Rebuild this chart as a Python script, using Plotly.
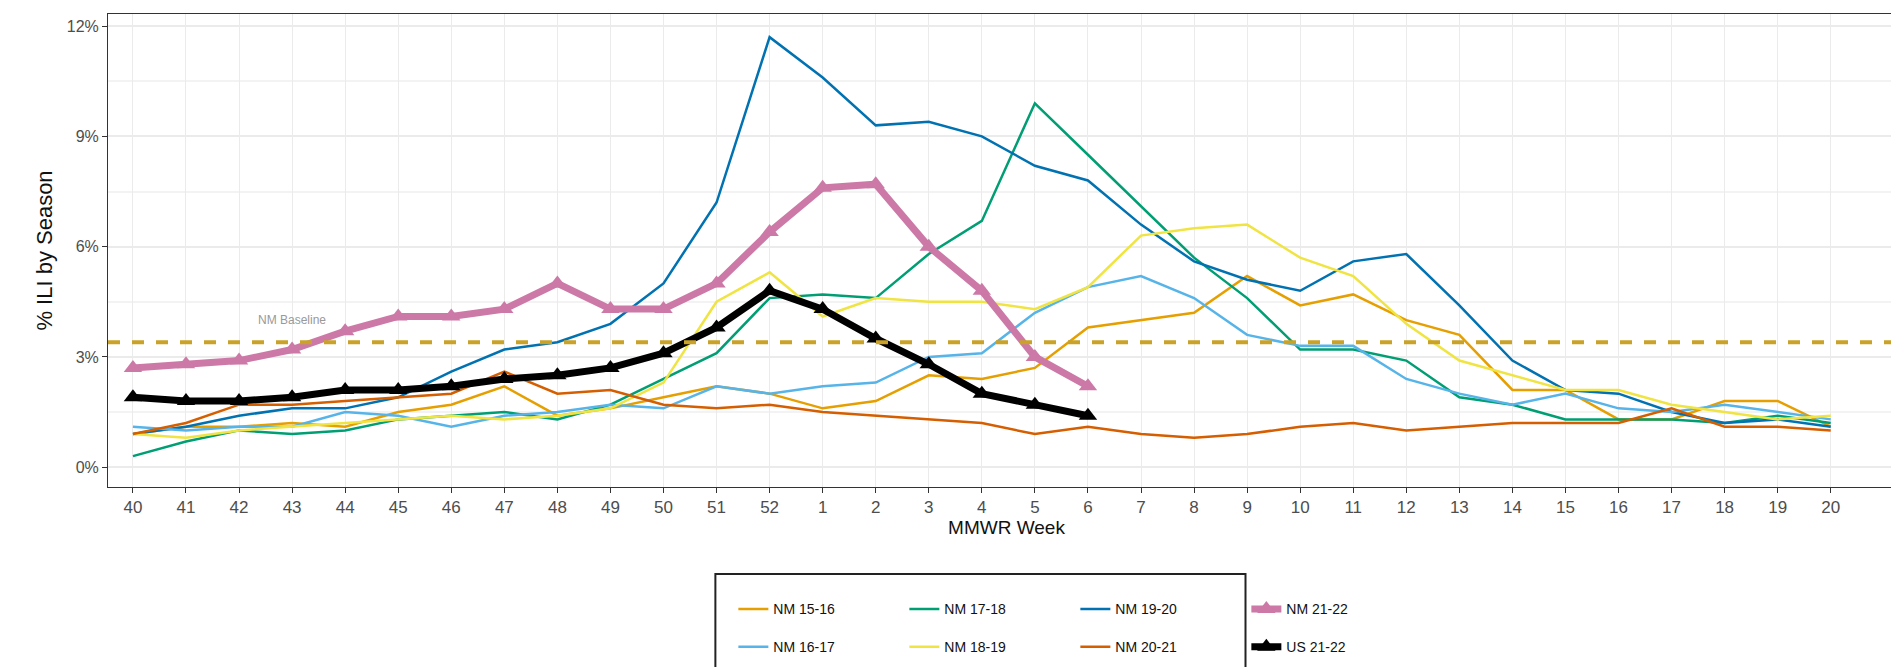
import plotly.graph_objects as go

weeks = [str(w) for w in list(range(40, 53)) + list(range(1, 21))]

nm_15_16 = [0.9,1.1,1.1,1.2,1.1,1.5,1.7,2.2,1.4,1.6,1.9,2.2,2.0,1.6,1.8,2.5,2.4,2.7,3.8,4.0,4.2,5.2,4.4,4.7,4.0,3.6,2.1,2.1,1.3,1.3,1.8,1.8,1.1]
nm_16_17 = [1.1,1.0,1.1,1.1,1.5,1.4,1.1,1.4,1.5,1.7,1.6,2.2,2.0,2.2,2.3,3.0,3.1,4.2,4.9,5.2,4.6,3.6,3.3,3.3,2.4,2.0,1.7,2.0,1.6,1.5,1.7,1.5,1.3]
nm_17_18 = [0.3,0.7,1.0,0.9,1.0,1.3,1.4,1.5,1.3,1.7,2.4,3.1,4.6,4.7,4.6,5.8,6.7,9.9,8.5,7.1,5.7,4.6,3.2,3.2,2.9,1.9,1.7,1.3,1.3,1.3,1.2,1.4,1.2]
nm_18_19 = [0.9,0.8,1.0,1.1,1.2,1.3,1.4,1.3,1.4,1.6,2.3,4.5,5.3,4.1,4.6,4.5,4.5,4.3,4.9,6.3,6.5,6.6,5.7,5.2,3.9,2.9,2.5,2.1,2.1,1.7,1.5,1.3,1.4]
nm_19_20 = [0.9,1.1,1.4,1.6,1.6,1.9,2.6,3.2,3.4,3.9,5.0,7.2,11.7,10.6,9.3,9.4,9.0,8.2,7.8,6.6,5.6,5.1,4.8,5.6,5.8,4.4,2.9,2.1,2.0,1.5,1.2,1.3,1.1]
nm_20_21 = [0.9,1.2,1.7,1.7,1.8,1.9,2.0,2.6,2.0,2.1,1.7,1.6,1.7,1.5,1.4,1.3,1.2,0.9,1.1,0.9,0.8,0.9,1.1,1.2,1.0,1.1,1.2,1.2,1.2,1.6,1.1,1.1,1.0]
nm_21_22 = [2.7,2.8,2.9,3.2,3.7,4.1,4.1,4.3,5.0,4.3,4.3,5.0,6.4,7.6,7.7,6.0,4.8,3.0,2.2]
us_21_22 = [1.9,1.8,1.8,1.9,2.1,2.1,2.2,2.4,2.5,2.7,3.1,3.8,4.8,4.3,3.5,2.8,2.0,1.7,1.4]
baseline = 3.4

x_idx = list(range(len(weeks)))
fig = go.Figure()

def add(name, vals, color, legend, width=2.5, marker=False):
    fig.add_trace(go.Scatter(
        x=x_idx[:len(vals)], y=vals, name=name, legend=legend,
        mode="lines+markers" if marker else "lines",
        line=dict(color=color, width=width),
        marker=dict(symbol="triangle-up", size=16, color=color) if marker else None,
    ))

add("NM 15-16", nm_15_16, "#E69F00", "legend")
add("NM 17-18", nm_17_18, "#009E73", "legend")
add("NM 19-20", nm_19_20, "#0072B2", "legend")
add("NM 16-17", nm_16_17, "#56B4E9", "legend2")
add("NM 18-19", nm_18_19, "#F0E442", "legend2")
add("NM 20-21", nm_20_21, "#D55E00", "legend2")
add("NM 21-22", nm_21_22, "#CC79A7", "legend", width=7, marker=True)
add("US 21-22", us_21_22, "#000000", "legend2", width=7, marker=True)

fig.add_hline(y=baseline, line=dict(color="#C9A227", width=4, dash="dash"))
fig.add_annotation(x=3, y=baseline + 0.35, text="NM Baseline", showarrow=False,
                   font=dict(size=12, color="#999999"), xanchor="center", yanchor="bottom")

fig.add_shape(type="rect", xref="paper", yref="paper", x0=0.338, x1=0.633, y0=-0.42, y1=-0.184,
              line=dict(color="#222222", width=2), fillcolor="rgba(0,0,0,0)")

leg_common = dict(orientation="h", xanchor="left", yanchor="top", entrywidth=126,
                  traceorder="normal", font=dict(size=14, color="#111"),
                  bgcolor="rgba(0,0,0,0)")
fig.update_layout(
    width=1899, height=667,
    margin=dict(l=100, r=2, t=6, b=188),
    plot_bgcolor="white", paper_bgcolor="white",
    font=dict(family="Liberation Sans, Arial", color="#4d4d4d"),
    legend=dict(x=0.348, y=-0.225, **leg_common),
    legend2=dict(x=0.348, y=-0.305, **leg_common),
)
fig.update_xaxes(range=[-0.47, 33.4], tickmode="array", tickvals=x_idx, ticktext=weeks,
                 showgrid=True, gridcolor="#ebebeb", gridwidth=1, ticks="outside", ticklen=5,
                 tickcolor="#333", tickfont=dict(size=17, color="#4d4d4d"),
                 showline=True, linecolor="#333", mirror=True, zeroline=False,
                 title=dict(text="MMWR Week", font=dict(size=19, color="#111"), standoff=4))
fig.update_yaxes(range=[-0.54, 12.33], tickvals=[0, 3, 6, 9, 12],
                 ticktext=["0%", "3%", "6%", "9%", "12%"],
                 showgrid=True, gridcolor="#ebebeb", gridwidth=1.5,
                 minor=dict(tickvals=[1.5, 4.5, 7.5, 10.5], showgrid=True, gridcolor="#f3f3f3"),
                 ticks="outside", ticklen=5, tickcolor="#333",
                 tickfont=dict(size=16, color="#4d4d4d"),
                 showline=True, linecolor="#333", mirror=True, zeroline=False,
                 title=dict(text="% ILI by Season", font=dict(size=22, color="#111"), standoff=8))

fig.write_html("out.html")
